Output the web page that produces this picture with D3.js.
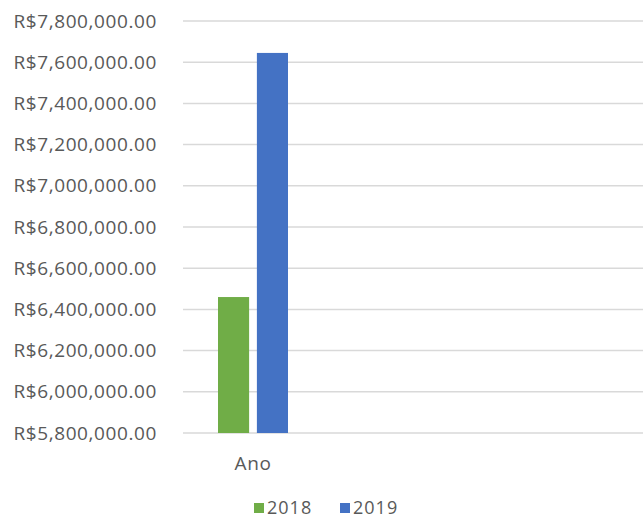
<!DOCTYPE html>
<html>
<head>
<meta charset="utf-8">
<script src="https://cdn.jsdelivr.net/npm/d3@7"></script>
<style>
  body { margin: 0; background: #fff; }
  .axis text, .label, .legend text { font-family: "Open Sans", sans-serif; fill: #595959; letter-spacing: 0.6px; }
</style>
</head>
<body>
<svg id="chart"></svg>
<script>
var categories = ["Ano"];
var seriesNames = ["2018", "2019"];
var values2018 = [6460000];
var values2019 = [7645000];
var yTicks = [5800000, 6000000, 6200000, 6400000, 6600000, 6800000, 7000000, 7200000, 7400000, 7600000, 7800000];
var colors = ["#70ad47", "#4472c4"];

var w = 643, h = 519;
var margin = {top: 21, left: 183, bottom: 86};

var svg = d3.select("#chart")
    .attr("width", w)
    .attr("height", h);

// y scale
var yScale = d3.scaleLinear()
    .domain([5800000, 7800000])
    .range([h - margin.bottom, margin.top]);

// x scale for the category, and inner scale for the series
var xScale = d3.scaleBand()
    .domain(categories)
    .range([margin.left, 323]);

var xInner = d3.scaleBand()
    .domain(seriesNames)
    .range([35, 105])
    .paddingInner(0.2);

var fmt = function(d) { return "R$" + d3.format(",.2f")(d); };

// gridlines
svg.append("g")
   .selectAll("line")
   .data(yTicks)
   .enter()
   .append("line")
   .attr("x1", margin.left)
   .attr("x2", w)
   .attr("y1", function(d) { return yScale(d); })
   .attr("y2", function(d) { return yScale(d); })
   .style("stroke", "#d9d9d9")
   .style("stroke-width", 1.5);

// y axis labels
var yAxis = d3.axisLeft(yScale)
    .tickValues(yTicks)
    .tickFormat(fmt)
    .tickSize(0)
    .tickPadding(0);

var gy = svg.append("g")
    .attr("class", "axis")
    .attr("transform", "translate(157,0)")
    .call(yAxis);
gy.select(".domain").remove();
gy.selectAll("text").style("font-size", "19px");

// bars
var rows = categories.map(function(c, i) {
    return [{cat: c, s: "2018", v: values2018[i]}, {cat: c, s: "2019", v: values2019[i]}];
});

svg.append("g")
   .selectAll("g")
   .data(rows)
   .enter()
   .append("g")
   .attr("transform", function(d) { return "translate(" + xScale(d[0].cat) + ",0)"; })
   .selectAll("rect")
   .data(function(d) { return d; })
   .enter()
   .append("rect")
   .attr("x", function(d) { return xInner(d.s); })
   .attr("width", xInner.bandwidth())
   .attr("y", function(d) { return yScale(d.v); })
   .attr("height", function(d) { return yScale(5800000) - yScale(d.v); })
   .style("fill", function(d, i) { return colors[i]; });

// category label
svg.append("text")
   .attr("class", "label")
   .attr("x", xScale("Ano") + xScale.bandwidth() / 2)
   .attr("y", 470)
   .attr("text-anchor", "middle")
   .style("font-size", "19px")
   .text("Ano");

// legend
var legendX = [254, 340];
var legend = svg.append("g").attr("class", "legend");
seriesNames.forEach(function(s, i) {
    legend.append("rect")
        .attr("x", legendX[i])
        .attr("y", 503)
        .attr("width", 10)
        .attr("height", 10)
        .style("fill", colors[i]);
    legend.append("text")
        .attr("x", legendX[i] + 13)
        .attr("y", 514)
        .style("font-size", "18px")
        .style("letter-spacing", "1px")
        .text(s);
});
</script>
</body>
</html>
